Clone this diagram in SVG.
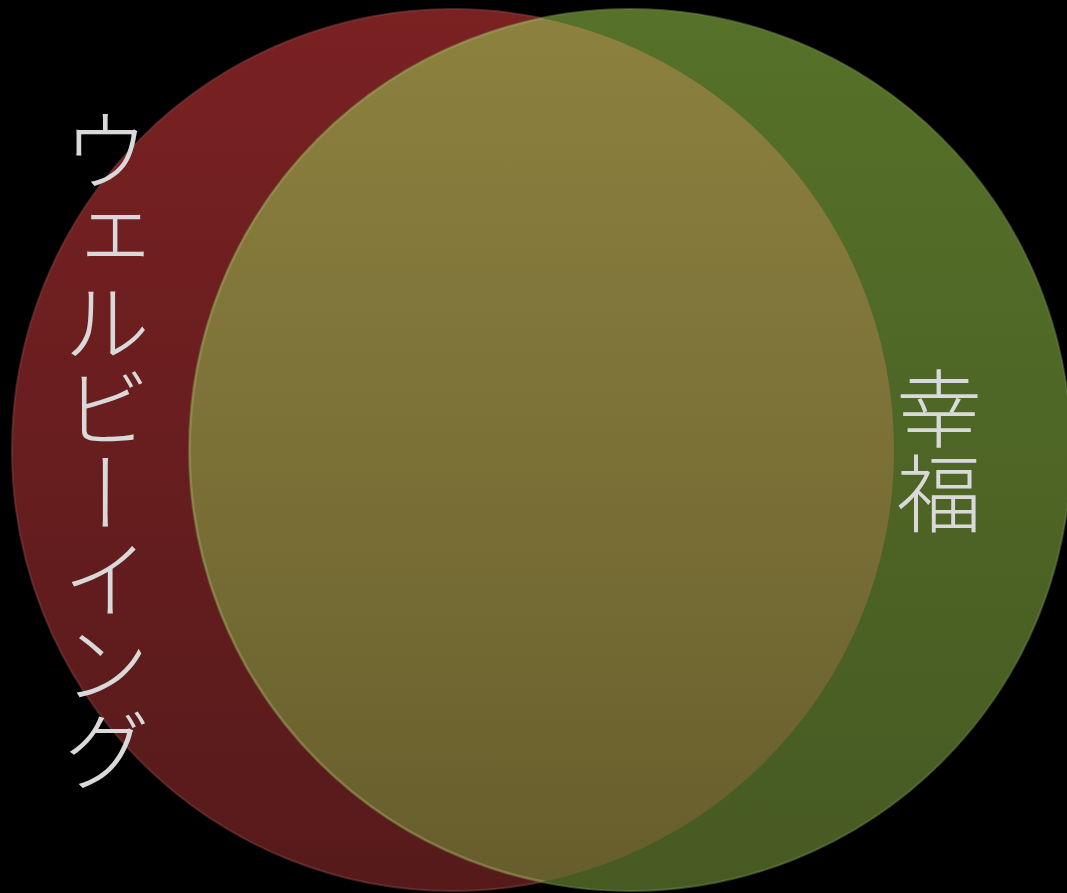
<svg xmlns="http://www.w3.org/2000/svg" width="1067" height="893" viewBox="0 0 1067 893">
<style>
.lbl{font-family:"Noto Sans CJK JP","Noto Sans CJK SC",sans-serif;font-weight:300;fill:#d9d9d9;writing-mode:vertical-rl;}
</style>
<defs>
<linearGradient id="gRed" x1="0" y1="0" x2="0" y2="1">
<stop offset="0" stop-color="#7a2122"/><stop offset="1" stop-color="#561a1b"/>
</linearGradient>
<linearGradient id="gGreen" x1="0" y1="0" x2="0" y2="1">
<stop offset="0" stop-color="#567129"/><stop offset="1" stop-color="#465a22"/>
</linearGradient>
<linearGradient id="gOlive" x1="0" y1="0" x2="0" y2="1">
<stop offset="0" stop-color="#8c813e"/><stop offset="0.5" stop-color="#7b7137"/><stop offset="1" stop-color="#665d2c"/>
</linearGradient>
<clipPath id="clipRed"><circle cx="453" cy="450" r="441"/></clipPath>
</defs>
<rect width="1067" height="893" fill="#000"/>
<g id="circle-wellbeing">
<circle cx="453" cy="450" r="441" fill="url(#gRed)" stroke="#8a4444" stroke-opacity="0.5" stroke-width="2"/>
</g>
<g id="circle-happiness">
<circle cx="630" cy="450" r="441" fill="url(#gGreen)" stroke="#6e8a4a" stroke-opacity="0.5" stroke-width="2"/>
</g>
<g id="overlap">
<circle cx="630" cy="450" r="441" fill="url(#gOlive)" clip-path="url(#clipRed)"/>
<circle cx="630" cy="450" r="440" fill="none" stroke="#a89560" stroke-opacity="0.5" stroke-width="2" clip-path="url(#clipRed)"/>
</g>
<g id="label-wellbeing">
<text class="lbl" x="106" y="107" font-size="88" letter-spacing="-2.5">ウェルビーイング</text>
</g>
<g id="label-happiness">
<text class="lbl" x="939" y="366" font-size="85">幸福</text>
</g>
</svg>
